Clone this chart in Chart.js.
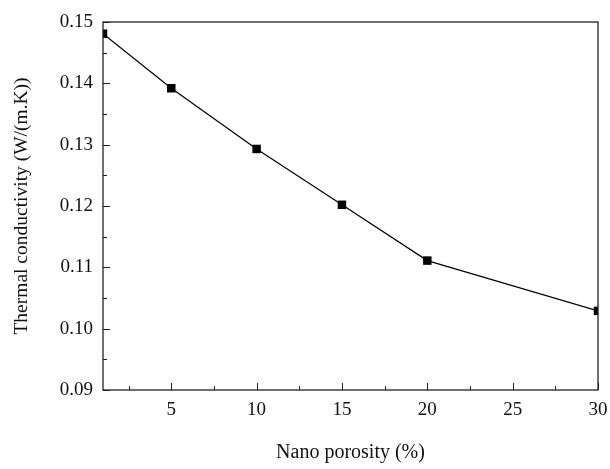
<!DOCTYPE html>
<html>
<head>
<meta charset="utf-8">
<script src="https://cdn.jsdelivr.net/npm/chart.js@4/dist/chart.umd.min.js"></script>
<style>
  html, body { margin: 0; padding: 0; background: #fff; }
  #wrap { width: 610px; height: 469px; }
</style>
</head>
<body>
<div id="wrap"><canvas id="conductChart" width="610" height="469"></canvas></div>
<script>
const porosity = [1, 5, 10, 15, 20, 30];
const conductivity = [0.1481, 0.1392, 0.1293, 0.1202, 0.1111, 0.1029];
const xTicks = [5, 10, 15, 20, 25, 30];
const xMinor = [2.5, 7.5, 12.5, 17.5, 22.5, 27.5];
const yTicks = [0.09, 0.10, 0.11, 0.12, 0.13, 0.14, 0.15];
const yMinor = [0.095, 0.105, 0.115, 0.125, 0.135, 0.145];

const serif = "'Liberation Serif', 'DejaVu Serif', serif";

// frame around plot + inward ticks
const frameTicks = {
  id: 'frameTicks',
  afterDatasetsDraw(chart) {
    const ctx = chart.ctx;
    const a = chart.chartArea;
    const xs = chart.scales.x, ys = chart.scales.y;
    ctx.save();
    ctx.strokeStyle = '#222';
    ctx.lineWidth = 1.3;
    ctx.strokeRect(a.left, a.top, a.right - a.left, a.bottom - a.top);
    ctx.lineWidth = 1;
    ctx.beginPath();
    xTicks.forEach(v => {
      const px = Math.round(xs.getPixelForValue(v)) + 0.5;
      ctx.moveTo(px, a.bottom); ctx.lineTo(px, a.bottom - 7);
    });
    xMinor.forEach(v => {
      const px = Math.round(xs.getPixelForValue(v)) + 0.5;
      ctx.moveTo(px, a.bottom); ctx.lineTo(px, a.bottom - 4);
    });
    yTicks.forEach(v => {
      const py = Math.round(ys.getPixelForValue(v)) + 0.5;
      ctx.moveTo(a.left, py); ctx.lineTo(a.left + 7, py);
    });
    yMinor.forEach(v => {
      const py = Math.round(ys.getPixelForValue(v)) + 0.5;
      ctx.moveTo(a.left, py); ctx.lineTo(a.left + 4, py);
    });
    ctx.stroke();
    ctx.restore();
  }
};

new Chart("conductChart", {
  type: "line",
  data: {
    datasets: [{
      data: porosity.map((x, i) => ({ x: x, y: conductivity[i] })),
      borderColor: "#000",
      borderWidth: 1.2,
      backgroundColor: "#000",
      pointStyle: "rect",
      pointRadius: 6,
      pointBorderWidth: 0,
      tension: 0,
      clip: 0
    }]
  },
  options: {
    responsive: false,
    animation: false,
    layout: { padding: { top: 22, right: 0, left: 0, bottom: 0 } },
    plugins: { legend: { display: false }, tooltip: { enabled: false } },
    scales: {
      x: {
        type: "linear",
        min: 1,
        max: 30,
        afterBuildTicks: s => { s.ticks = xTicks.map(v => ({ value: v })); },
        afterFit: s => { s.height = 79; s.paddingRight = 12; s.paddingLeft = 0; },
        grid: { display: false, drawTicks: false },
        border: { display: false },
        ticks: {
          padding: 9,
          color: "#111",
          font: { family: serif, size: 19 },
          callback: v => String(v)
        },
        title: {
          display: true,
          text: "Nano porosity (%)",
          color: "#111",
          font: { family: serif, size: 20 },
          padding: { top: 0, bottom: 4 }
        }
      },
      y: {
        type: "linear",
        min: 0.09,
        max: 0.15,
        afterBuildTicks: s => { s.ticks = yTicks.map(v => ({ value: v })); },
        afterFit: s => { s.width = 103; s.paddingTop = 0; s.paddingBottom = 0; },
        grid: { display: false, drawTicks: false },
        border: { display: false },
        ticks: {
          padding: 10,
          color: "#111",
          font: { family: serif, size: 19 },
          callback: v => v.toFixed(2)
        },
        title: {
          display: true,
          text: "Thermal conductivity (W/(m.K))",
          color: "#111",
          font: { family: serif, size: 19.5 },
          padding: { top: 10, bottom: 0 }
        }
      }
    }
  },
  plugins: [frameTicks]
});
</script>
</body>
</html>
